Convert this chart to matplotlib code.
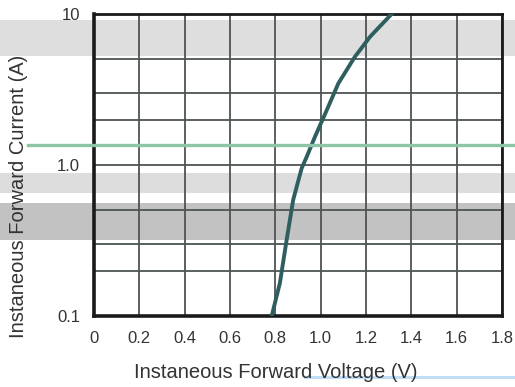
import matplotlib.pyplot as plt
from matplotlib.patches import Rectangle
from matplotlib.lines import Line2D
from matplotlib.ticker import FixedLocator, NullFormatter

plt.rcParams['font.family'] = ['Liberation Sans', 'DejaVu Sans']

# forward characteristic
voltage = [0.784, 0.82, 0.85, 0.879, 0.916, 0.938, 0.975, 1.027, 1.078, 1.151, 1.218, 1.313]
current = [0.1, 0.165, 0.32, 0.59, 0.95, 1.13, 1.54, 2.31, 3.47, 5.21, 7.07, 10.0]

x_ticks = [0, 0.2, 0.4, 0.6, 0.8, 1.0, 1.2, 1.4, 1.6, 1.8]
x_labels = ['0', '0.2', '0.4', '0.6', '0.8', '1.0', '1.2', '1.4', '1.6', '1.8']
y_ticks = [0.1, 1.0, 10]
y_labels = ['0.1', '1.0', '10']

W, H = 515, 387
fig = plt.figure(figsize=(W / 100, H / 100), dpi=100)


def band(y0, y1, color):
    # horizontal strip in pixel coords (top-down)
    fig.add_artist(Rectangle((0, 1 - y1 / H), 1, (y1 - y0) / H,
                             transform=fig.transFigure, color=color,
                             zorder=0, lw=0))


band(20, 56, '#dedede')
band(173, 193, '#dddddd')
band(203, 240, '#c2c2c2')

ax = fig.add_axes([94 / W, 1 - 316 / H, 408 / W, 302 / H])
ax.set_facecolor('none')
ax.set_yscale('log')
ax.set_xlim(0, 1.8)
ax.set_ylim(0.1, 10)

ax.xaxis.set_major_locator(FixedLocator(x_ticks))
ax.set_xticklabels(x_labels)
ax.yaxis.set_major_locator(FixedLocator(y_ticks))
ax.set_yticklabels(y_labels)
ax.yaxis.set_minor_locator(FixedLocator([0.2, 0.3, 0.5, 2, 3, 5]))
ax.yaxis.set_minor_formatter(NullFormatter())
ax.tick_params(which='both', length=0, labelsize=12, colors='#333333')
ax.tick_params(axis='x', pad=11)
ax.tick_params(axis='y', pad=10)

ax.grid(True, which='major', color='#4d5454', lw=1.3)
ax.grid(True, which='minor', axis='y', color='#4d5454', lw=1.3)

for side, w in [('left', 2.6), ('bottom', 2.6), ('top', 2.0), ('right', 2.0)]:
    ax.spines[side].set_color('#1a1a1a')
    ax.spines[side].set_linewidth(w)

ax.plot(voltage, current, color='#2f5e5e', lw=2.8, zorder=5)

# green strip across
fig.add_artist(Line2D([28 / W, 1], [1 - 145 / H] * 2, transform=fig.transFigure,
                      color='#8cc4a6', lw=2.4, zorder=6))
# light blue strip under the x label
fig.add_artist(Line2D([305 / W, 1], [1 - 377 / H] * 2, transform=fig.transFigure,
                      color='#bcdcf8', lw=2.0, zorder=1))

fig.text(276 / W, 1 - 372 / H, 'Instaneous Forward Voltage (V)', ha='center',
         va='center', fontsize=14.5, color='#333333')
fig.text(19 / W, 1 - 196 / H, 'Instaneous Forward Current (A)', ha='center',
         va='center', rotation=90, fontsize=14.5, color='#333333')

fig.savefig('out.png', dpi=100)
